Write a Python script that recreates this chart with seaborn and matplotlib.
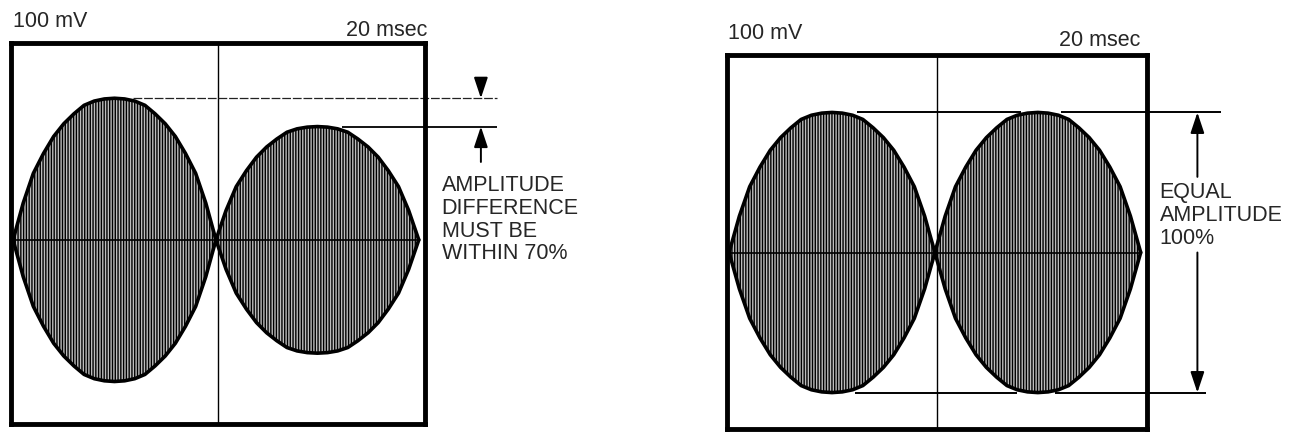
import numpy as np
import pandas as pd
import matplotlib.pyplot as plt
import seaborn as sns

# envelope shape of one lobe
# (fraction of lobe width -> fraction of peak height)
ENV_FRAC = [0.0, 0.05, 0.10, 0.15, 0.20, 0.25, 0.30, 0.35, 0.40, 0.45, 0.50,
            0.55, 0.60, 0.65, 0.70, 0.75, 0.80, 0.85, 0.90, 0.95, 1.0]
ENV_LEVEL = [0.0, 0.26, 0.47, 0.61, 0.73, 0.82, 0.89, 0.95, 0.98, 0.995, 1.0,
             0.995, 0.98, 0.95, 0.89, 0.82, 0.73, 0.61, 0.47, 0.26, 0.0]

# lobe boundaries (msec) and peak amplitude of each lobe (mV)
LOBE_EDGES = [0.1, 9.9, 19.7]
LEFT_AMPS = [100, 80]
RIGHT_AMPS = [100, 100]

VOLT_LABEL = '100 mV'
TIME_LABEL = '20 msec'
LEFT_NOTE = 'AMPLITUDE\nDIFFERENCE\nMUST BE\nWITHIN 70%'
RIGHT_NOTE = 'EQUAL\nAMPLITUDE\n100%'

sns.set_style("white")
plt.rcParams['font.family'] = ['Liberation Sans', 'DejaVu Sans']
plt.rcParams['hatch.color'] = 'black'
plt.rcParams['hatch.linewidth'] = 1.0

FS = 15.5
W, H = 1295, 433


def envelope(amps):
    rows = []
    for i, amp in enumerate(amps):
        a, b = LOBE_EDGES[i], LOBE_EDGES[i + 1]
        for f, lv in zip(ENV_FRAC, ENV_LEVEL):
            rows.append({'lobe': i, 't': a + f * (b - a), 'v': amp * lv})
    return pd.DataFrame(rows)


def draw_scope(ax, amps, ylim):
    df = envelope(amps)
    ax.set_xlim(0, 20)
    ax.set_ylim(*ylim)
    for lobe, g in df.groupby('lobe'):
        ax.fill_between(g['t'], -g['v'], g['v'], facecolor='#bdbdbd',
                        edgecolor='black', hatch='||||||', linewidth=0, zorder=1)
        sns.lineplot(x=g['t'], y=g['v'], ax=ax, color='black', lw=2.6,
                     sort=False, zorder=3)
        sns.lineplot(x=g['t'], y=-g['v'], ax=ax, color='black', lw=2.6,
                     sort=False, zorder=3)
    # graticule centre lines
    ax.hlines(0, LOBE_EDGES[0], LOBE_EDGES[-1], color='black', lw=1.2, zorder=2)
    ax.axvline(10, color='black', lw=1.0, zorder=2)
    ax.set_xticks([])
    ax.set_yticks([])
    ax.set_xlabel('')
    ax.set_ylabel('')
    for s in ax.spines.values():
        s.set_visible(True)
        s.set_linewidth(3.5)
        s.set_color('black')


def arrow(ax, tip, tail):
    ax.annotate('', xy=tip, xytext=tail, annotation_clip=False,
                arrowprops=dict(arrowstyle='-|>,head_length=0.9,head_width=0.3',
                                color='black', lw=1.4, mutation_scale=14,
                                shrinkA=0, shrinkB=0))


fig = plt.figure(figsize=(W / 100, H / 100), dpi=100)

# left panel
ax1 = fig.add_axes([11 / W, 9 / H, 414 / W, 381 / H])
draw_scope(ax1, LEFT_AMPS, (-130, 139))
ax1.text(0.1, 154, VOLT_LABEL, ha='left', va='center', fontsize=FS, clip_on=False)
ax1.text(20.1, 148, TIME_LABEL, ha='right', va='center', fontsize=FS, clip_on=False)
ax1.hlines(LEFT_AMPS[0], 5.9, 23.5, color='#222222', lw=0.9,
           linestyles=(0, (7, 1.5)), clip_on=False, zorder=2)
ax1.hlines(LEFT_AMPS[1], 16.0, 23.5, color='black', lw=1.3, clip_on=False, zorder=2)
arrow(ax1, (22.7, LEFT_AMPS[0]), (22.7, 111))
arrow(ax1, (22.7, LEFT_AMPS[1]), (22.7, 55))
ax1.text(20.8, 46, LEFT_NOTE, ha='left', va='top', fontsize=FS,
         linespacing=1.12, clip_on=False)

# right panel
ax2 = fig.add_axes([727 / W, 4 / H, 420 / W, 374 / H])
draw_scope(ax2, RIGHT_AMPS, (-126, 141))
ax2.text(0.05, 156, VOLT_LABEL, ha='left', va='center', fontsize=FS, clip_on=False)
ax2.text(19.7, 151, TIME_LABEL, ha='right', va='center', fontsize=FS, clip_on=False)
for x0, x1 in [(6.2, 14.0), (15.9, 23.5)]:
    ax2.hlines(RIGHT_AMPS[0], x0, x1, color='black', lw=1.4, clip_on=False, zorder=2)
for x0, x1 in [(6.1, 13.8), (15.6, 22.8)]:
    ax2.hlines(-RIGHT_AMPS[1], x0, x1, color='black', lw=1.4, clip_on=False, zorder=2)
arrow(ax2, (22.4, RIGHT_AMPS[0]), (22.4, 54))
arrow(ax2, (22.4, -RIGHT_AMPS[1]), (22.4, 0))
ax2.text(20.6, 50, RIGHT_NOTE, ha='left', va='top', fontsize=FS,
         linespacing=1.12, clip_on=False)

fig.savefig('out.png', dpi=100, facecolor='white')
